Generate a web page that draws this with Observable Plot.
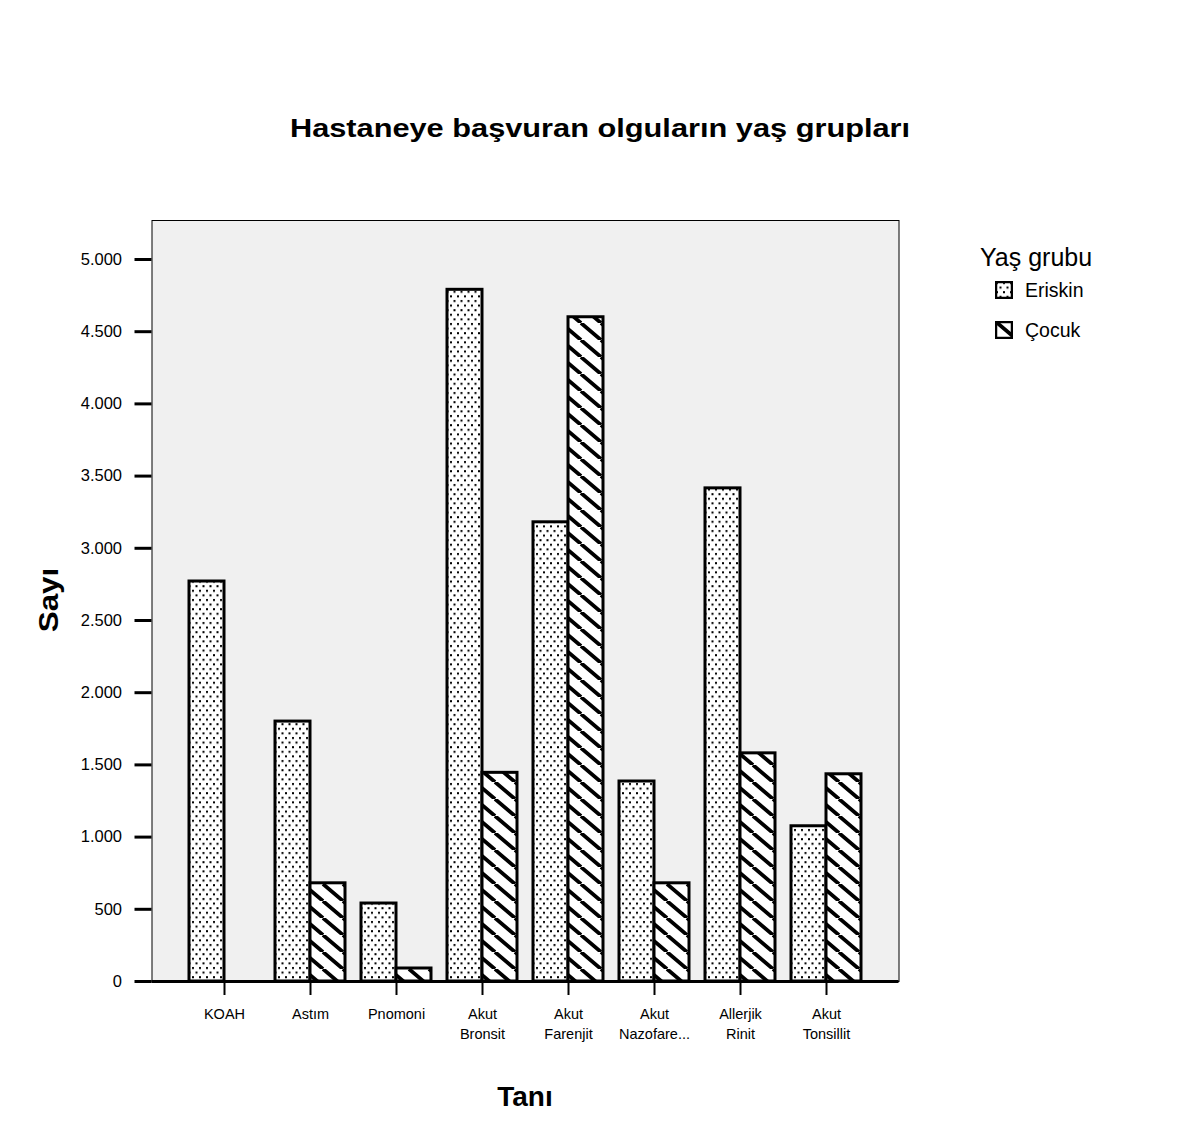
<!DOCTYPE html>
<html>
<head>
<meta charset="utf-8">
<script src="https://cdn.jsdelivr.net/npm/d3@7"></script>
<script src="https://cdn.jsdelivr.net/npm/@observablehq/plot@0.6"></script>
<style>
  body { margin:0; background:white; font-family:"Liberation Sans", Arial, sans-serif; }
  #wrap { position:relative; width:1199px; height:1139px; }
  .lbl { position:absolute; transform:translate(-50%,-50%); white-space:nowrap; color:black; }
  #legend { position:absolute; left:980px; top:243px; }
</style>
</head>
<body>
<svg width="0" height="0" style="position:absolute">
  <defs>
    <pattern id="dots" patternUnits="userSpaceOnUse" width="7" height="9.2">
      <rect width="7" height="9.2" fill="white"/>
      <rect x="1" y="1" width="2" height="2" fill="black"/>
      <rect x="4.5" y="5.6" width="2" height="2" fill="black"/>
    </pattern>
    <pattern id="hatch" patternUnits="userSpaceOnUse" width="20" height="17">
      <rect width="20" height="17" fill="white"/>
      <path d="M-20,0 L0,17 M0,0 L20,17 M20,0 L40,17" stroke="black" stroke-width="3.8"/>
    </pattern>
  </defs>
</svg>
<div id="wrap">
  <div id="chart"></div>
  <div class="lbl" style="left:600px;top:128px;font-size:26.5px;font-weight:bold;transform:translate(-50%,-50%) scaleX(1.16);">Hastaneye başvuran olguların yaş grupları</div>
  <div class="lbl" style="left:49px;top:600px;font-size:28px;font-weight:bold;transform:translate(-50%,-50%) rotate(-90deg) scaleX(1.12);">Sayı</div>
  <div class="lbl" style="left:525px;top:1097px;font-size:28px;font-weight:bold;">Tanı</div>
  <div id="legend"></div>
</div>
<script>
const categories = ["KOAH","Astım","Pnomoni","Akut\nBronsit","Akut\nFarenjit","Akut\nNazofare...","Allerjik\nRinit","Akut\nTonsillit"];
const groups = ["Eriskin","Çocuk"];
const eriskin = [2770,1800,540,4790,3180,1385,3415,1075];
const cocuk = [0,680,90,1445,4600,680,1580,1435];
const yTicks = [0,500,1000,1500,2000,2500,3000,3500,4000,4500,5000];
const patterns = ["url(#dots)","url(#hatch)"];
const legendTitle = "Yaş grubu";

const data = [];
categories.forEach((c,i) => {
  data.push({cat:c, group:groups[0], value:eriskin[i]});
  data.push({cat:c, group:groups[1], value:cocuk[i]});
});

const fmt = d => d3.format(",")(d).replace(/,/g, ".");

const chart = Plot.plot({
  width:1199, height:1139,
  marginLeft:152, marginRight:300, marginTop:220, marginBottom:158,
  style:{fontFamily:"'Liberation Sans', Arial, sans-serif", fontSize:"16px", background:"transparent"},
  fx:{domain:categories, paddingInner:0.186, paddingOuter:0.436, label:null},
  x:{domain:groups, padding:0, axis:null},
  y:{domain:[0,5270], axis:null},
  color:{domain:groups, range:patterns},
  marks:[
    Plot.frame({fill:"#f0f0f0", stroke:"black", strokeWidth:1, facet:"super", insetLeft:-37.5, insetRight:-37.5}),
    Plot.barY(data, {fx:"cat", x:"group", y:"value", fill:"group", stroke:"black", strokeWidth:3}),
    Plot.ruleY([0], {stroke:"black", strokeWidth:3, insetLeft:-37.5, insetRight:-37.5}),
    Plot.axisY({ticks:yTicks, tickFormat:fmt, tickSize:17, tickPadding:13, strokeWidth:3, fontSize:16.5, dx:-37.5, label:null}),
    Plot.axisFx({anchor:"bottom", tickSize:14, tickPadding:9, strokeWidth:2, fontSize:14.5, lineHeight:1.4, label:null})
  ]
});
document.getElementById("chart").appendChild(chart);

// legend
const lg = document.getElementById("legend");
let html = `<div style="font-size:25px;margin-bottom:4px;">${legendTitle}</div>`;
groups.forEach((g,i) => {
  html += `<div style="display:flex;align-items:center;height:40px;margin-top:${i?0:-6}px;">
    <svg width="18" height="18" style="margin-left:15px;margin-right:12px;"><rect x="1" y="1" width="16" height="16" fill="${patterns[i]}" stroke="black" stroke-width="2.5"/></svg>
    <span style="font-size:19.5px;">${g}</span></div>`;
});
lg.innerHTML = html;
</script>
</body>
</html>
